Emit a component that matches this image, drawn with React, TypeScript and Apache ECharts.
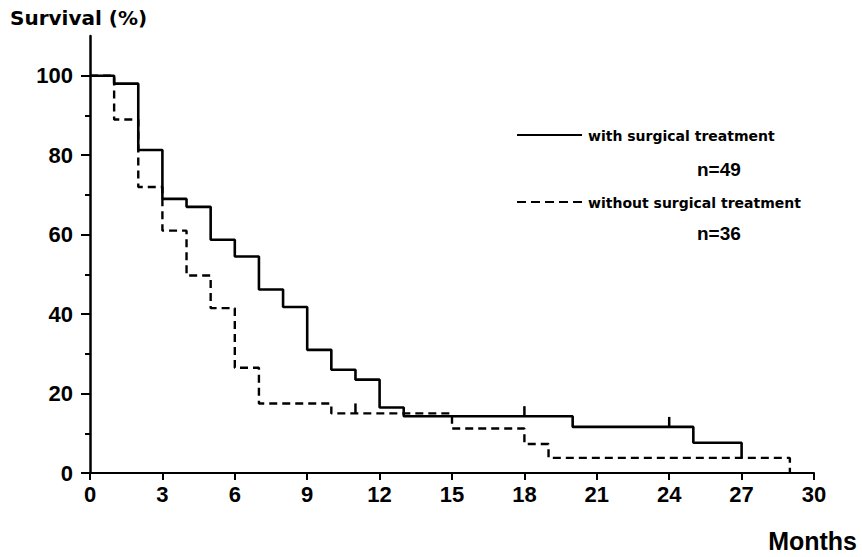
import React, { useEffect, useRef } from "react";
import * as echarts from "echarts";

// Kaplan-Meier steps: survival (%) from each time (months) onward
const withTimes = [0, 1, 2, 3, 4, 5, 6, 7, 8, 9, 10, 11, 12, 13, 20, 25, 27];
const withSurv = [100, 98, 81.3, 69, 67, 58.7, 54.5, 46.2, 41.8, 31, 26, 23.5, 16.5, 14.3, 11.6, 7.6, 3.8];
const withoutTimes = [0, 1, 2, 3, 4, 5, 6, 7, 10, 15, 18, 19, 29];
const withoutSurv = [100, 89, 72, 61, 49.7, 41.5, 26.5, 17.5, 15, 11.2, 7.3, 3.8, 0];
// censored observations
const withCensorTimes = [18, 24];
const withCensorSurv = [14.3, 11.6];
const withoutCensorTimes = [11];
const withoutCensorSurv = [15];

const yMajorTicks = [0, 20, 40, 60, 80, 100];
const yMinorTicks = [10, 30, 50, 70, 90];
const xTicks = [0, 3, 6, 9, 12, 15, 18, 21, 24, 27, 30];

const seriesNames = ["with surgical treatment", "without surgical treatment"];
const seriesN = ["n=49", "n=36"];

const numFont = "'Liberation Sans', Arial, sans-serif";
const textFont = "'DejaVu Sans', sans-serif";

export default function App() {
  const ref = useRef<HTMLDivElement>(null);
  useEffect(() => {
    if (!ref.current) return;
    const chart = echarts.init(ref.current, null, { renderer: "svg" });
    const zip = (a: number[], b: number[]) => a.map((v, i) => [v, b[i]]);
    const option = {
      animation: false,
      backgroundColor: "#ffffff",
      grid: { left: 90, right: 48, top: 36, bottom: 84, containLabel: false },
      xAxis: {
        type: "value",
        min: 0,
        max: 30,
        interval: 3,
        axisLine: { show: true, lineStyle: { color: "#000", width: 2 } },
        axisTick: { show: true, length: 7, lineStyle: { color: "#000", width: 2 }, customValues: xTicks },
        axisLabel: {
          customValues: xTicks,
          margin: 10,
          color: "#000",
          fontSize: 22,
          fontWeight: "bold",
          fontFamily: numFont,
        },
        splitLine: { show: false },
      },
      yAxis: [
        {
          type: "value",
          min: 0,
          max: 110,
          position: "left",
          axisLine: { show: true, onZero: false, lineStyle: { color: "#000", width: 2.5 } },
          axisTick: { show: true, length: 9, lineStyle: { color: "#000", width: 2 }, customValues: yMajorTicks },
          axisLabel: {
            customValues: yMajorTicks,
            margin: 17,
            color: "#000",
            fontSize: 22,
            fontWeight: "bold",
            fontFamily: numFont,
          },
          splitLine: { show: false },
        },
        {
          type: "value",
          min: 0,
          max: 110,
          position: "left",
          axisLine: { show: false },
          axisTick: { show: true, length: 5, lineStyle: { color: "#000", width: 2 }, customValues: yMinorTicks },
          axisLabel: { show: false },
          splitLine: { show: false },
        },
      ],
      series: [
        {
          name: seriesNames[0],
          type: "line",
          step: "end",
          data: zip(withTimes, withSurv),
          showSymbol: false,
          symbol: "none",
          lineStyle: { color: "#000", width: 2.6, type: "solid" },
          z: 3,
        },
        {
          name: seriesNames[1],
          type: "line",
          step: "end",
          data: zip(withoutTimes, withoutSurv),
          showSymbol: false,
          symbol: "none",
          lineStyle: { color: "#000", width: 2.4, type: [8, 5] },
          z: 2,
        },
        {
          name: "censored with",
          type: "scatter",
          data: zip(withCensorTimes, withCensorSurv),
          symbol: "rect",
          symbolSize: [2.5, 10],
          symbolOffset: [0, -5],
          itemStyle: { color: "#000", opacity: 1 },
          z: 4,
        },
        {
          name: "censored without",
          type: "scatter",
          data: zip(withoutCensorTimes, withoutCensorSurv),
          symbol: "rect",
          symbolSize: [2.5, 10],
          symbolOffset: [0, -5],
          itemStyle: { color: "#000", opacity: 1 },
          z: 4,
        },
      ],
      graphic: [
        {
          type: "text",
          left: 10,
          top: 8,
          style: { text: "Survival (%)", fontSize: 20, fontWeight: "bold", fontFamily: textFont, fill: "#000" },
        },
        {
          type: "text",
          right: 5,
          top: 528,
          style: { text: "Months", fontSize: 25, fontWeight: "bold", fontFamily: numFont, fill: "#000" },
        },
        {
          type: "line",
          shape: { x1: 517, y1: 135, x2: 582, y2: 135 },
          style: { stroke: "#000", lineWidth: 2 },
        },
        {
          type: "text",
          x: 588,
          y: 136,
          style: { text: seriesNames[0], fontSize: 14, fontWeight: "bold", fontFamily: textFont, fill: "#000", verticalAlign: "middle" },
        },
        {
          type: "text",
          x: 697,
          y: 169,
          style: { text: seriesN[0], fontSize: 19, fontWeight: "bold", fontFamily: numFont, fill: "#000", verticalAlign: "middle" },
        },
        {
          type: "line",
          shape: { x1: 517, y1: 202, x2: 585, y2: 202 },
          style: { stroke: "#000", lineWidth: 2, lineDash: [9, 5] },
        },
        {
          type: "text",
          x: 588,
          y: 203,
          style: { text: seriesNames[1], fontSize: 14, fontWeight: "bold", fontFamily: textFont, fill: "#000", verticalAlign: "middle" },
        },
        {
          type: "text",
          x: 697,
          y: 233,
          style: { text: seriesN[1], fontSize: 19, fontWeight: "bold", fontFamily: numFont, fill: "#000", verticalAlign: "middle" },
        },
      ],
    };
    chart.setOption(option as any);
    return () => chart.dispose();
  }, []);
  return <div ref={ref} style={{ width: 862, height: 557, position: "absolute", left: 0, top: 0 }} />;
}
